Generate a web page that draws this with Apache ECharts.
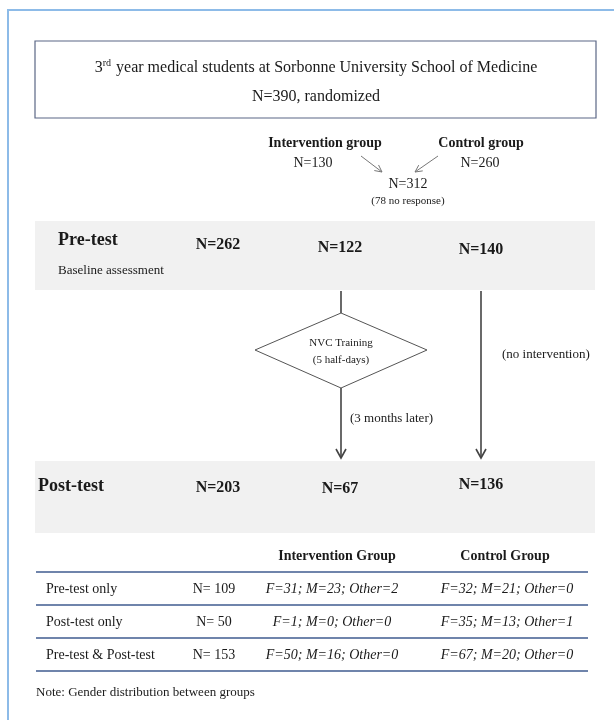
<!DOCTYPE html>
<html><head><meta charset="utf-8">
<script src="https://cdn.jsdelivr.net/npm/echarts@6/dist/echarts.min.js"></script>
<style>html,body{margin:0;padding:0;background:#fff}#c{width:614px;height:720px}</style>
</head><body><div id="c"></div><script>
// ---------- data ----------
const titleOrdinal = ['3', 'rd'];
const titleRest = ' year medical students at Sorbonne University School of Medicine';
const randomizedN = 390;
const groupNames = ['Intervention group', 'Control group'];
const groupAssigned = [130, 260];
const respondedN = 312;
const noResponseN = 78;
const stageNames = ['Pre-test', 'Post-test'];
const stageSubtitle = 'Baseline assessment';
const stageTotals = [262, 203];
const interventionStageN = [122, 67];
const controlStageN = [140, 136];
const trainingLabel = ['NVC Training', '(5 half-days)'];
const delayLabel = '(3 months later)';
const controlPathLabel = '(no intervention)';
const tableHeaders = ['Intervention Group', 'Control Group'];
const tableRows = ['Pre-test only', 'Post-test only', 'Pre-test & Post-test'];
const tableRowN = [109, 50, 153];
const interventionF = [31, 1, 50];
const interventionM = [23, 0, 16];
const interventionOther = [2, 0, 0];
const controlF = [32, 35, 67];
const controlM = [21, 13, 20];
const controlOther = [0, 1, 0];
const noteText = 'Note: Gender distribution between groups';

// ---------- layout (diagram coordinates, separate from data) ----------
const L = {
  frameX: 8, frameY: 10,
  box: [35, 41, 596, 118], titleX: 316, titleY: [68, 97],
  grpX: [325, 481], grpY: 143, grpNX: [313, 480], grpNY: 163,
  arrL: [361, 156, 382, 172], arrR: [438, 156, 415, 172],
  mergeX: 408, mergeY: [184, 201],
  band1: [35, 221, 595, 290], band2: [35, 461, 595, 533],
  stageX: [58, 38], stageY: [240, 486], subY: 271,
  colX: [218, 340, 481], preY: [245, 248, 250], postY: [488, 489, 485],
  diamond: [341, 313, 427, 350, 341, 388, 255, 350], trainY: [343, 360],
  leftX: 341, rightX: 481, arrowTipY: 458,
  delayX: 350, delayY: 419, ctrlLblX: 502, ctrlLblY: 355,
  thY: 556, thX: [337, 505],
  tableX: [36, 588], ruleY: [572, 605, 638, 671], rowY: [589, 622, 655],
  rowLblX: 46, rowNX: 214, rowIX: 332, rowCX: 507,
  noteX: 36, noteY: 693
};

const SERIF = "'Liberation Serif', 'Times New Roman', Times, serif";
const INK = '#1a1a1a';

function renderAll(params, api) {
  const c = (x, y) => api.coord([x, y]);
  const els = [];
  const poly = (pts, stroke, w) => els.push({
    type: 'polyline', shape: { points: pts.map(p => c(p[0], p[1])) },
    style: { stroke: stroke, lineWidth: w, fill: null }
  });
  const rect = (r, style) => {
    const a = c(r[0], r[1]), b = c(r[2], r[3]);
    els.push({ type: 'rect', shape: { x: a[0], y: a[1], width: b[0] - a[0], height: b[1] - a[1] }, style: style });
  };
  const text = (s, x, y, size, opt) => {
    opt = opt || {};
    const p = c(x, y);
    els.push({
      type: 'text', x: p[0], y: p[1],
      style: {
        text: s, fill: opt.fill || INK,
        font: (opt.italic ? 'italic ' : '') + (opt.bold ? 'bold ' : '') + size + 'px ' + SERIF,
        align: opt.align || 'center', textAlign: opt.align || 'center',
        verticalAlign: 'middle', textVerticalAlign: 'middle',
        rich: opt.rich
      }
    });
  };
  const arrow = (x0, y0, x1, y1, stroke, w, len, half) => {
    const a = c(x0, y0), b = c(x1, y1);
    const dx = b[0] - a[0], dy = b[1] - a[1], d = Math.hypot(dx, dy);
    const ux = dx / d, uy = dy / d, nx = -uy, ny = ux;
    els.push({ type: 'line', shape: { x1: a[0], y1: a[1], x2: b[0], y2: b[1] }, style: { stroke, lineWidth: w } });
    els.push({ type: 'polyline', shape: { points: [
      [b[0] - ux * len + nx * half, b[1] - uy * len + ny * half], [b[0], b[1]],
      [b[0] - ux * len - nx * half, b[1] - uy * len - ny * half]] },
      style: { stroke, lineWidth: w, fill: null } });
  };

  // outer frame (left & top edges)
  poly([[L.frameX, 720], [L.frameX, L.frameY], [614, L.frameY]], '#8dbbe8', 2);

  // title box
  rect(L.box, { fill: '#fff', stroke: '#5b6785', lineWidth: 1.2 });
  text('{n|' + titleOrdinal[0] + '}{sup|' + titleOrdinal[1] + '}{n|' + titleRest + '}', L.titleX, L.titleY[0], 16, {
    rich: {
      n: { fontSize: 16, fontFamily: SERIF, fill: INK, lineHeight: 19 },
      sup: { fontSize: 10, fontFamily: SERIF, fill: INK, lineHeight: 19, verticalAlign: 'top', padding: [0, 1, 0, 0] }
    }
  });
  text('N=' + randomizedN + ', randomized', L.titleX, L.titleY[1], 16);

  // groups merging
  groupNames.forEach((g, i) => {
    text(g, L.grpX[i], L.grpY, 14, { bold: true });
    text('N=' + groupAssigned[i], L.grpNX[i], L.grpNY, 14);
  });
  arrow(L.arrL[0], L.arrL[1], L.arrL[2], L.arrL[3], '#777', 1, 7, 3.5);
  arrow(L.arrR[0], L.arrR[1], L.arrR[2], L.arrR[3], '#777', 1, 7, 3.5);
  text('N=' + respondedN, L.mergeX, L.mergeY[0], 14);
  text('(' + noResponseN + ' no response)', L.mergeX, L.mergeY[1], 11);

  // bands
  rect(L.band1, { fill: '#f1f1f1' });
  rect(L.band2, { fill: '#f1f1f1' });
  text(stageNames[0], L.stageX[0], L.stageY[0], 18, { bold: true, align: 'left' });
  text(stageSubtitle, L.stageX[0], L.subY, 13, { align: 'left' });
  text(stageNames[1], L.stageX[1], L.stageY[1], 18, { bold: true, align: 'left' });
  const pre = [stageTotals[0], interventionStageN[0], controlStageN[0]];
  const post = [stageTotals[1], interventionStageN[1], controlStageN[1]];
  pre.forEach((v, i) => text('N=' + v, L.colX[i], L.preY[i], 16, { bold: true }));
  post.forEach((v, i) => text('N=' + v, L.colX[i], L.postY[i], 16, { bold: true }));

  // flow lines
  poly([[L.leftX, L.band1[3] + 1], [L.leftX, L.diamond[1]]], '#444', 1.6);
  const dm = L.diamond;
  const dpts = [[dm[0], dm[1]], [dm[2], dm[3]], [dm[4], dm[5]], [dm[6], dm[7]]].map(p => c(p[0], p[1]));
  els.push({ type: 'polygon', shape: { points: dpts }, style: { fill: '#fff', stroke: '#555', lineWidth: 1 } });
  text(trainingLabel[0], dm[0], L.trainY[0], 11);
  text(trainingLabel[1], dm[0], L.trainY[1], 11);
  arrow(L.leftX, dm[5], L.leftX, L.arrowTipY, '#444', 1.6, 9, 5);
  arrow(L.rightX, L.band1[3] + 1, L.rightX, L.arrowTipY, '#444', 1.6, 9, 5);
  text(delayLabel, L.delayX, L.delayY, 13, { align: 'left' });
  text(controlPathLabel, L.ctrlLblX, L.ctrlLblY, 13, { align: 'left' });

  // table
  tableHeaders.forEach((h, i) => text(h, L.thX[i], L.thY, 14, { bold: true }));
  L.ruleY.forEach(y => poly([[L.tableX[0], y], [L.tableX[1], y]], '#3f5b8f', 1.5));
  tableRows.forEach((r, i) => {
    const y = L.rowY[i];
    text(r, L.rowLblX, y, 14, { align: 'left' });
    text('N= ' + tableRowN[i], L.rowNX, y, 14);
    text('F=' + interventionF[i] + '; M=' + interventionM[i] + '; Other=' + interventionOther[i], L.rowIX, y, 14, { italic: true });
    text('F=' + controlF[i] + '; M=' + controlM[i] + '; Other=' + controlOther[i], L.rowCX, y, 14, { italic: true });
  });
  text(noteText, L.noteX, L.noteY, 13, { align: 'left' });

  return { type: 'group', children: els };
}

const chart = echarts.init(document.getElementById('c'), null, { renderer: 'canvas' });
chart.setOption({
  animation: false,
  backgroundColor: '#fff',
  grid: { left: 0, right: 0, top: 0, bottom: 0 },
  xAxis: { type: 'value', min: 0, max: 614, show: false },
  yAxis: { type: 'value', min: 0, max: 720, inverse: true, show: false },
  series: [{
    type: 'custom', coordinateSystem: 'cartesian2d', clip: false,
    data: [[0, 0]], renderItem: renderAll, silent: true
  }]
});
</script></body></html>
